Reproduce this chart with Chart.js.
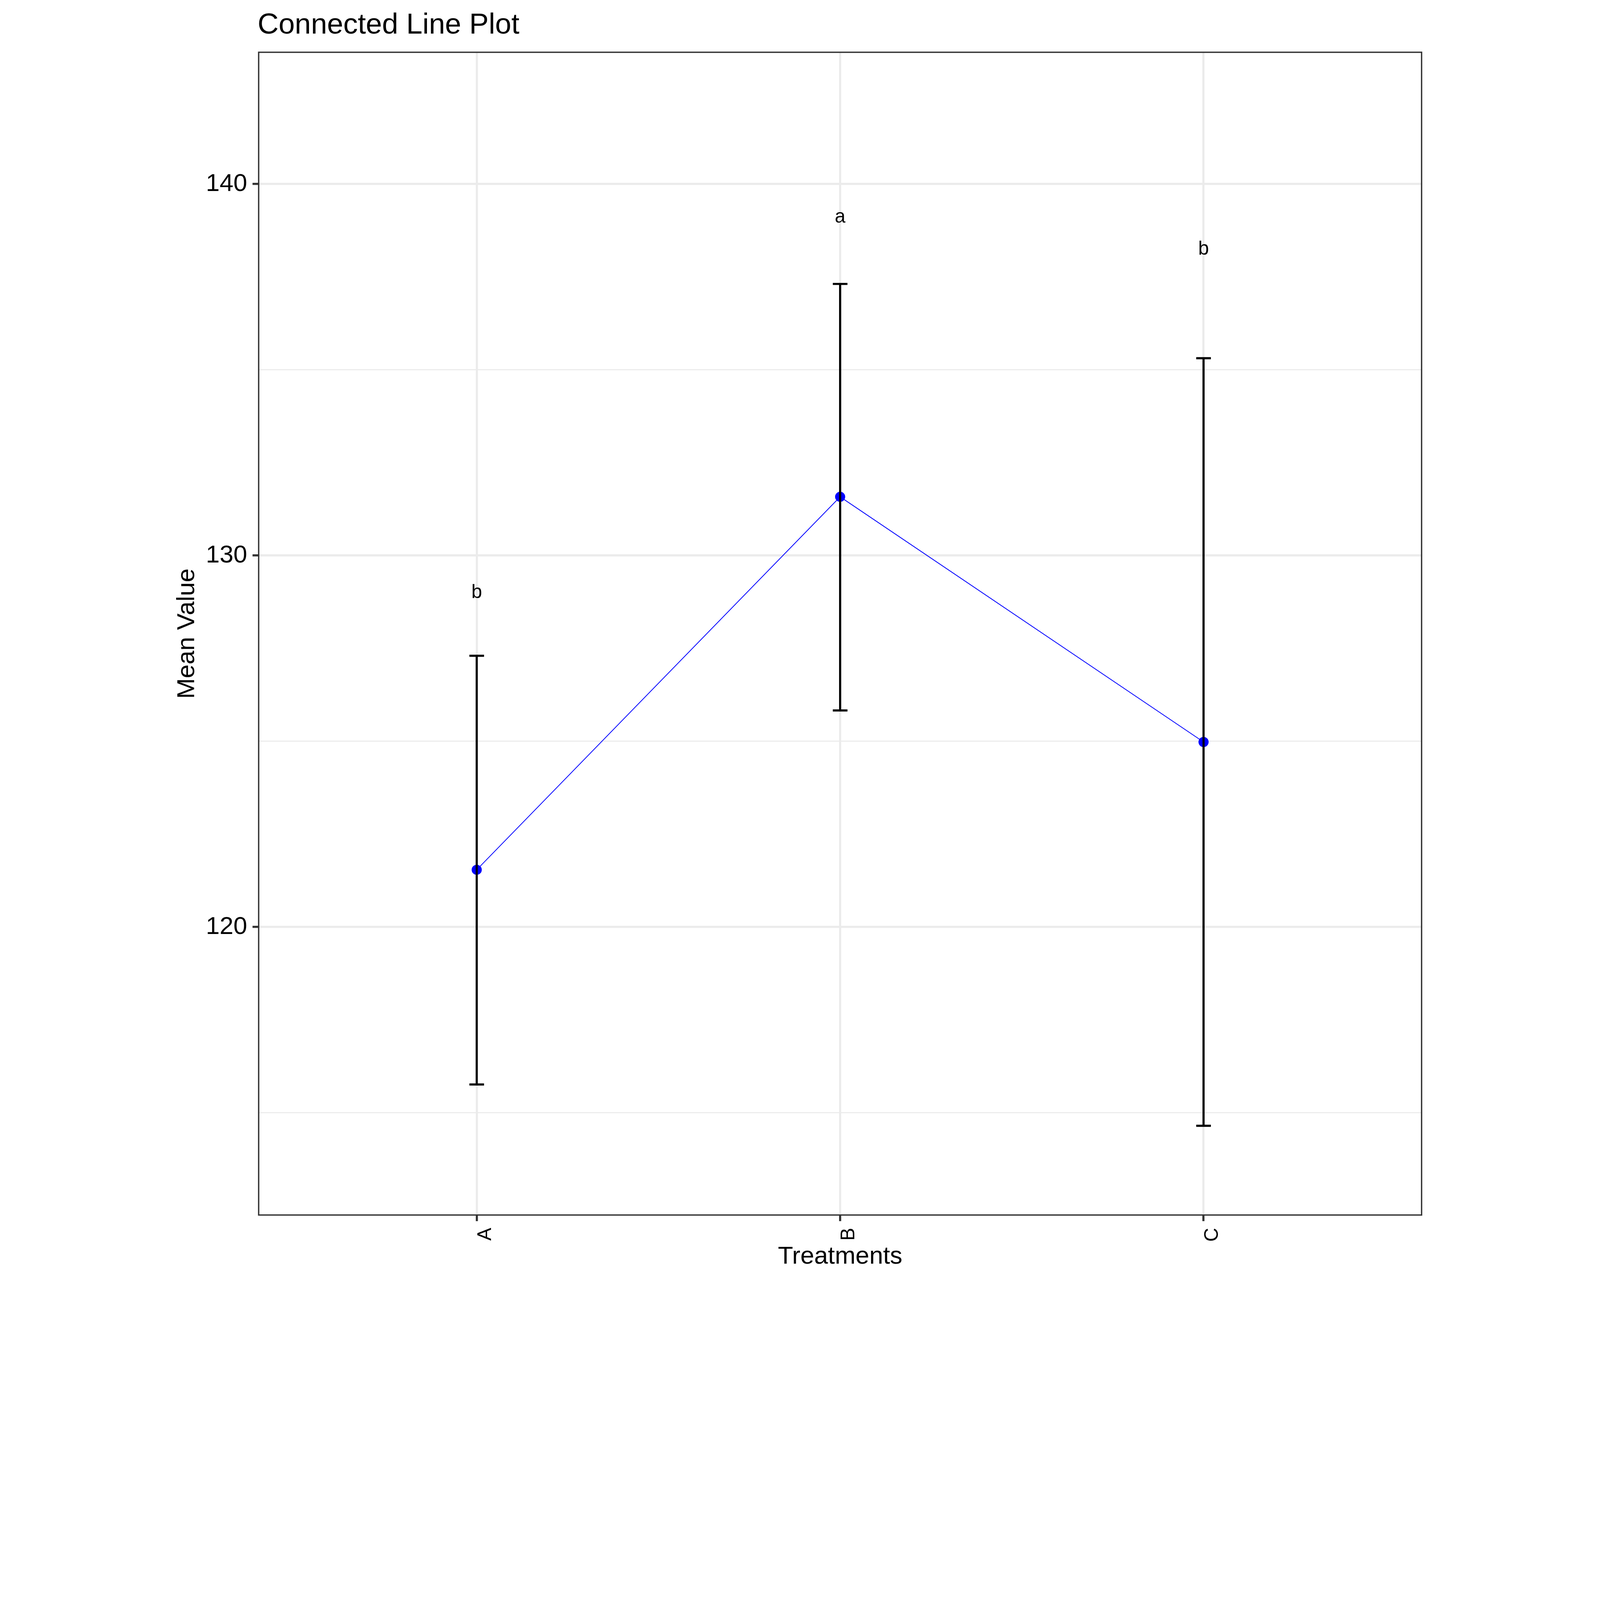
<!DOCTYPE html>
<html>
<head>
<meta charset="utf-8">
<title>Connected Line Plot</title>
<script src="https://cdn.jsdelivr.net/npm/chart.js@4.4.1/dist/chart.umd.min.js"></script>
<style>
  html, body { margin: 0; padding: 0; background: #ffffff; overflow: hidden; }
  canvas { display: block; }
</style>
</head>
<body>
<canvas id="myChart"></canvas>
<script>
// values
const treatments = ["A", "B", "C"];
const meanValues = [121.54, 131.58, 124.98];
const upperValues = [127.3, 137.31, 135.31];
const lowerValues = [115.76, 125.83, 114.65];
const groupLetters = ["b", "a", "b"];
const letterValues = [129.0, 139.1, 138.24];
const yTicks = [115, 120, 125, 130, 135, 140];
const yLabelledTicks = [120, 130, 140];

const FONT = "'Liberation Sans', Arial, Helvetica, sans-serif";

//everything was measured on a 6000x4800 picture, scale to the window
const k = Math.min(window.innerWidth / 6000, window.innerHeight / 4800) || 1;
const px = (v) => v * k;

const canvas = document.getElementById("myChart");
canvas.style.width = px(6000) + "px";
canvas.style.height = px(4800) + "px";
canvas.width = Math.round(px(6000));
canvas.height = Math.round(px(4800));

const data = {
  datasets: [
    {
      data: treatments.map((t, i) => ({ x: i + 1, y: meanValues[i] })),
      borderColor: "#0000FF",
      borderWidth: px(3),
      tension: 0,
      pointRadius: px(19),
      pointHoverRadius: px(19),
      pointBackgroundColor: "#0000FF",
      pointBorderWidth: 0,
    },
  ],
};

//error bars + letters on top of the points
const errorBarPlugin = {
  id: "errorBars",
  afterDatasetsDraw(chart) {
    const ctx = chart.ctx;
    const xs = chart.scales.x;
    const ys = chart.scales.y;
    const half = px(27.5);
    ctx.save();
    ctx.strokeStyle = "#000000";
    ctx.lineWidth = px(8);
    ctx.lineCap = "butt";
    treatments.forEach((t, i) => {
      const x = xs.getPixelForValue(i + 1);
      const yTop = ys.getPixelForValue(upperValues[i]);
      const yBot = ys.getPixelForValue(lowerValues[i]);
      ctx.beginPath();
      ctx.moveTo(x, yTop);
      ctx.lineTo(x, yBot);
      ctx.moveTo(x - half, yTop);
      ctx.lineTo(x + half, yTop);
      ctx.moveTo(x - half, yBot);
      ctx.lineTo(x + half, yBot);
      ctx.stroke();
    });
    ctx.fillStyle = "#000000";
    ctx.font = px(72) + "px " + FONT;
    ctx.textAlign = "center";
    ctx.textBaseline = "middle";
    groupLetters.forEach((letter, i) => {
      ctx.fillText(
        letter,
        xs.getPixelForValue(i + 1),
        ys.getPixelForValue(letterValues[i])
      );
    });
    ctx.restore();
  },
};

//panel border and the left aligned title
const panelPlugin = {
  id: "panelBorder",
  afterDraw(chart) {
    const { ctx, chartArea } = chart;
    ctx.save();
    ctx.strokeStyle = "#333333";
    ctx.lineWidth = px(5);
    ctx.strokeRect(
      chartArea.left,
      chartArea.top,
      chartArea.right - chartArea.left,
      chartArea.bottom - chartArea.top
    );
    ctx.fillStyle = "#000000";
    ctx.font = px(109) + "px " + FONT;
    ctx.textAlign = "left";
    ctx.textBaseline = "alphabetic";
    ctx.fillText("Connected Line Plot", chartArea.left - px(4), px(126));
    ctx.restore();
  },
};

const config = {
  type: "line",
  data,
  options: {
    responsive: false,
    devicePixelRatio: 1,
    animation: false,
    layout: {
      padding: { left: px(647), right: px(669), top: px(196), bottom: px(32) },
    },
    plugins: {
      legend: { display: false },
      tooltip: { enabled: false },
    },
    scales: {
      x: {
        type: "linear",
        min: 0.4,
        max: 3.6,
        afterBuildTicks: (s) => {
          s.ticks = treatments.map((t, i) => ({ value: i + 1 }));
        },
        afterFit: (s) => {
          s.height = px(212);
        },
        ticks: {
          autoSkip: false,
          minRotation: 90,
          maxRotation: 90,
          padding: px(25),
          labelOffset: px(34),
          color: "#000000",
          font: { family: FONT, size: px(72) },
          callback: (value, index) => treatments[index],
        },
        grid: {
          color: "#EBEBEB",
          lineWidth: px(8),
          tickLength: px(23),
          tickColor: "#333333",
          tickWidth: px(8),
        },
        border: { display: false },
        title: {
          display: true,
          text: "Treatments",
          color: "#000000",
          font: { family: FONT, size: px(93) },
          padding: 0,
        },
      },
      y: {
        type: "linear",
        min: 112.247,
        max: 143.546,
        afterBuildTicks: (s) => {
          s.ticks = yTicks.map((v) => ({ value: v }));
        },
        afterFit: (s) => {
          s.width = px(323);
        },
        ticks: {
          padding: px(20),
          color: "#000000",
          font: { family: FONT, size: px(93) },
          callback: (value) =>
            yLabelledTicks.includes(value) ? String(value) : "",
        },
        grid: {
          color: "#EBEBEB",
          lineWidth: (c) =>
            c.tick && yLabelledTicks.includes(c.tick.value) ? px(8) : px(4),
          tickLength: px(23),
          tickColor: (c) =>
            c.tick && yLabelledTicks.includes(c.tick.value)
              ? "#333333"
              : "rgba(0,0,0,0)",
          tickWidth: px(8),
        },
        border: { display: false },
        title: {
          display: true,
          text: "Mean Value",
          color: "#000000",
          font: { family: FONT, size: px(93) },
          padding: 0,
        },
      },
    },
  },
  plugins: [errorBarPlugin, panelPlugin],
};

let myChart = new Chart(canvas, config);
</script>
</body>
</html>
